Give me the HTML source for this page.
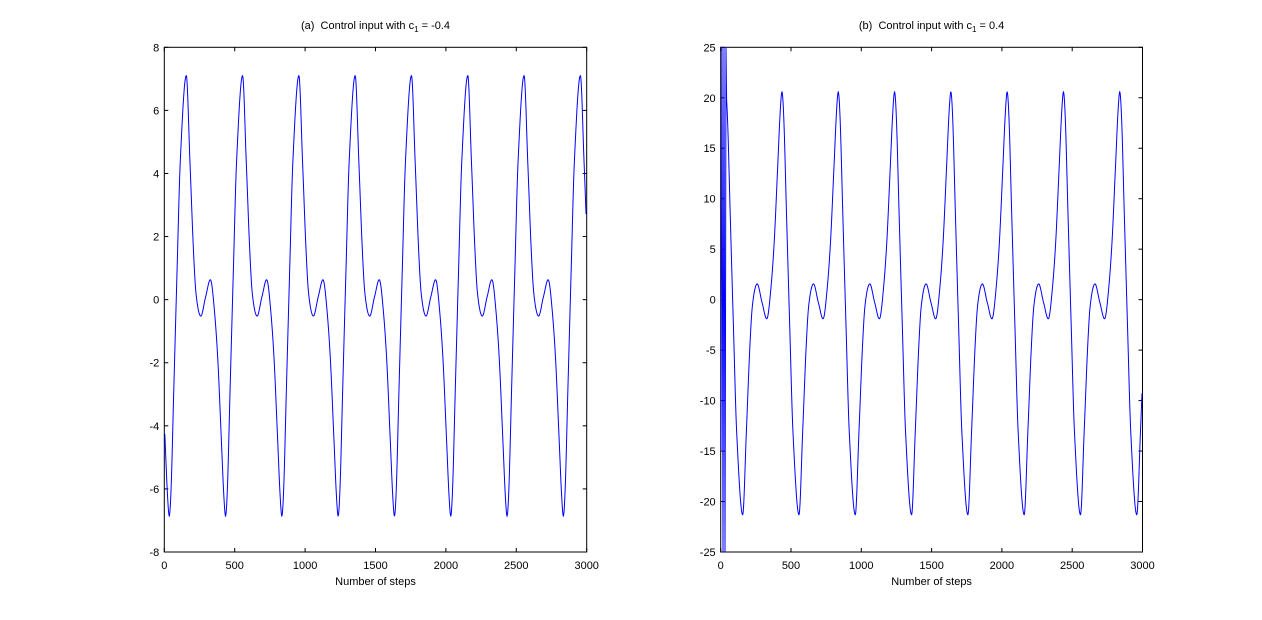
<!DOCTYPE html>
<html><head><meta charset="utf-8"><style>
html,body{margin:0;padding:0;background:#fff;}
svg{display:block;}
text{font-family:"Liberation Sans",Arial,sans-serif;font-size:11px;fill:#000;}
</style></head><body>
<svg id="s" width="1262" height="620" xmlns="http://www.w3.org/2000/svg">
<rect width="1262" height="620" fill="#fff"/>
<g id="g"></g>
</svg>
<script>
(function(){
var NS="http://www.w3.org/2000/svg",g=document.getElementById('g');
function el(t,a,txt){var e=document.createElementNS(NS,t);for(var k in a)e.setAttribute(k,a[k]);if(txt!==undefined)e.textContent=txt;g.appendChild(e);return e;}
var TOP=47.3,BOT=552,P=56.3;
var cp=[[0,7.1],[3.7,4.33],[7,1.67],[9.7,0.2],[14.4,-0.52],[19.4,0.1],[24.4,0.62],[28,-0.3],[31.5,-1.9],[35,-4.4],[37.5,-6.2],[39.4,-6.85],[41.3,-5.8],[43.7,-2.95],[47,0.85],[50.3,4.4],[56.3,7.1]];
function f(r){r=((r%P)+P)%P;var n=cp.length-1;var i=0;while(i<n-1&&cp[i+1][0]<=r)i++;
 function pt(j){if(j<0)return [cp[n+j][0]-P,cp[n+j][1]];if(j>n)return [cp[j-n][0]+P,cp[j-n][1]];return cp[j];}
 var p0=pt(i-1),p1=pt(i),p2=pt(i+1),p3=pt(i+2);
 var t=(r-p1[0])/(p2[0]-p1[0]);
 var m1=(p2[1]-p0[1])/(p2[0]-p0[0])*(p2[0]-p1[0]),m2=(p3[1]-p1[1])/(p3[0]-p1[0])*(p2[0]-p1[0]);
 var t2=t*t,t3=t2*t;
 return (2*t3-3*t2+1)*p1[1]+(t3-2*t2+t)*m1+(-2*t3+3*t2)*p2[1]+(t3-t2)*m2;}
function panel(x0,x1,ymin,ymax,yst,scale,title,sub,right){
 var W=x1-x0,H=BOT-TOP;
 function Y(v){return TOP+(ymax-v)/(ymax-ymin)*H;}
 el('rect',{x:x0,y:TOP,width:W,height:H,fill:'none',stroke:'#000','stroke-width':1});
 for(var k=0;k<=6;k++){var x=x0+W*k/6;
  el('line',{x1:x,x2:x,y1:BOT,y2:BOT-4,stroke:'#000'});el('line',{x1:x,x2:x,y1:TOP,y2:TOP+4,stroke:'#000'});
  el('text',{x:x,y:569,'text-anchor':'middle'},String(k*500));}
 for(var v=ymin;v<=ymax+1e-9;v+=yst){var y=Y(v);
  el('line',{x1:x0,x2:x0+4,y1:y,y2:y,stroke:'#000'});el('line',{x1:x1,x2:x1-4,y1:y,y2:y,stroke:'#000'});
  el('text',{x:x0-5,y:y+4,'text-anchor':'end'},String(v));}
 var d='',start=right?727:x0+0.5;
 if(right){d='M721,450L722,47L723,552L724,47L725,552L725.5,330L726,47L726.6,'+Y(-3*f(726.6-x0-22)).toFixed(2);}
 for(var x=start;x<=x1-0.5;x+=0.25){var vv=scale*f(x-x0-22);d+=(d?'L':'M')+x.toFixed(2)+','+Y(vv).toFixed(2);}
 el('path',{d:d,fill:'none',stroke:'#0000ff','stroke-width':1});
 var cx=(x0+x1)/2;
 var t=el('text',{x:cx,y:29,'text-anchor':'middle'});
 t.appendChild(document.createTextNode(title+'c'));
 var s1=document.createElementNS(NS,'tspan');s1.setAttribute('dy','3');s1.setAttribute('font-size','8');s1.textContent='1';t.appendChild(s1);
 var s2=document.createElementNS(NS,'tspan');s2.setAttribute('dy','-3');s2.textContent='\u00a0= '+sub;t.appendChild(s2);
 el('text',{x:cx,y:585,'text-anchor':'middle'},'Number of steps');
}
panel(164.3,586.7,-8,8,2,1,'(a)\u00a0\u00a0Control input with ','-0.4',false);
panel(720.7,1142.5,-25,25,5,-3,'(b)\u00a0\u00a0Control input with ','0.4',true);
})();
</script>
</body></html>
